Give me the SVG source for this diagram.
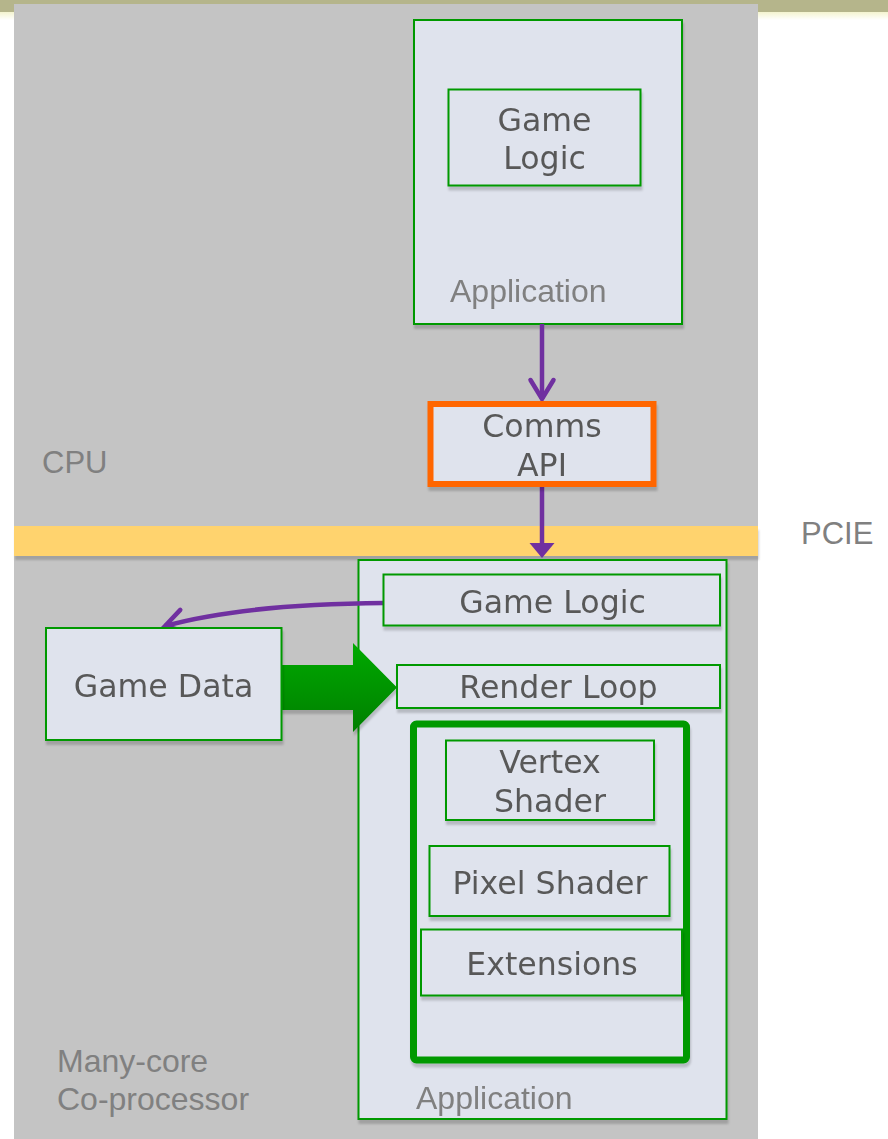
<svg xmlns="http://www.w3.org/2000/svg" width="888" height="1139" viewBox="0 0 888 1139">
<style>
.box{fill:#dfe3ed;stroke:#009900;stroke-width:2}
.nt{font-family:"DejaVu Sans",Verdana,sans-serif;font-size:31.6px;fill:#595959;text-anchor:middle}
.lb{font-family:"Liberation Sans",Arial,sans-serif;font-size:31px;fill:#808080}
.lb2{font-family:"Liberation Sans",Arial,sans-serif;font-size:32px;fill:#808080}
.pl{fill:none;stroke:#7030a0;stroke-width:4.5}
</style>
<defs>
<filter id="sh" x="-10%" y="-10%" width="120%" height="130%">
<feDropShadow dx="1" dy="4" stdDeviation="0.8" flood-color="#000" flood-opacity="0.18"/>
</filter>
<linearGradient id="gg" x1="0" y1="0" x2="0" y2="1">
<stop offset="0" stop-color="#00aa00"/>
<stop offset="1" stop-color="#007f00"/>
</linearGradient>
<linearGradient id="cream" x1="0" y1="0" x2="0" y2="1">
<stop offset="0" stop-color="#f4f4cf"/>
<stop offset="1" stop-color="#ffffff"/>
</linearGradient>
<marker id="chev" markerUnits="userSpaceOnUse" viewBox="0 0 30 30" markerWidth="30" markerHeight="30" refX="22" refY="15" orient="auto" overflow="visible">
<path d="M3,3.5 L22,15 L3,26.5" fill="none" stroke="#7030a0" stroke-width="4.5" stroke-linecap="round" stroke-linejoin="miter"/>
</marker>
<marker id="tri" markerUnits="userSpaceOnUse" viewBox="0 0 16 26" markerWidth="16" markerHeight="26" refX="3" refY="13" orient="auto" overflow="visible">
<path d="M0,0.5 L15,13 L0,25.5 Z" fill="#7030a0"/>
</marker>
</defs>
<rect x="0" y="0" width="888" height="1139" fill="#ffffff"/>
<rect x="0" y="12" width="888" height="8" fill="url(#cream)"/>
<rect x="0" y="0" width="888" height="12" fill="#b5b58b"/>
<rect x="14" y="4" width="744" height="522" fill="#c4c4c4"/>
<rect x="14" y="556" width="744" height="583" fill="#c4c4c4"/>
<rect x="14" y="526" width="744" height="30" fill="#ffd36e" filter="url(#sh)"/>
<text class="lb" x="42" y="473">CPU</text>
<text class="lb" x="801" y="544">PCIE</text>
<text class="lb2" x="57" y="1072">Many-core</text>
<text class="lb2" x="57" y="1110">Co-processor</text>

<g id="app-cpu" filter="url(#sh)">
<rect class="box" x="414" y="20" width="268" height="304"/>
<text class="lb2" x="450" y="302">Application</text>
</g>
<g id="app-coproc" filter="url(#sh)">
<rect class="box" x="358.5" y="560" width="368" height="559"/>
<text class="lb2" x="416" y="1109">Application</text>
</g>

<g id="connectors">
<line class="pl" x1="542" y1="324" x2="542" y2="399" marker-end="url(#chev)"/>
<line class="pl" x1="542" y1="487" x2="542" y2="546" marker-end="url(#tri)"/>
<path class="pl" d="M384,603 Q245,604 165,626" marker-end="url(#chev)"/>
<polygon points="281,665 353,665 353,643 397,687.5 353,732 353,710 281,710" fill="url(#gg)" filter="url(#sh)"/>
</g>

<g id="game-logic-cpu" filter="url(#sh)">
<rect class="box" x="448.5" y="89.5" width="192" height="96"/>
<text class="nt" x="544.5" y="131">Game</text>
<text class="nt" x="544.5" y="169">Logic</text>
</g>
<g id="comms-api" filter="url(#sh)">
<rect x="430.5" y="404" width="223" height="80" fill="#dfe3ed" stroke="#ff6600" stroke-width="6"/>
<text class="nt" x="542" y="437">Comms</text>
<text class="nt" x="542" y="476">API</text>
</g>
<g id="game-data" filter="url(#sh)">
<rect class="box" x="46" y="628" width="235.5" height="112"/>
<text class="nt" x="163.5" y="697">Game Data</text>
</g>
<g id="game-logic" filter="url(#sh)">
<rect class="box" x="383.5" y="574.5" width="336.5" height="51"/>
<text class="nt" x="552.5" y="613">Game Logic</text>
</g>
<g id="render-loop" filter="url(#sh)">
<rect class="box" x="397" y="665" width="323" height="43"/>
<text class="nt" x="558.5" y="698">Render Loop</text>
</g>
<g id="shader-group" filter="url(#sh)">
<rect x="413.5" y="724" width="273" height="336" rx="3" fill="#dfe3ed" stroke="#009900" stroke-width="7"/>
</g>
<g id="vertex-shader" filter="url(#sh)">
<rect class="box" x="446" y="740.5" width="208" height="79.5"/>
<text class="nt" x="550" y="773">Vertex</text>
<text class="nt" x="550" y="812">Shader</text>
</g>
<g id="pixel-shader" filter="url(#sh)">
<rect class="box" x="429.5" y="846" width="240" height="70"/>
<text class="nt" x="550" y="894">Pixel Shader</text>
</g>
<g id="extensions" filter="url(#sh)">
<rect class="box" x="421" y="929.5" width="261" height="66"/>
<text class="nt" x="552" y="975">Extensions</text>
</g>
</svg>
